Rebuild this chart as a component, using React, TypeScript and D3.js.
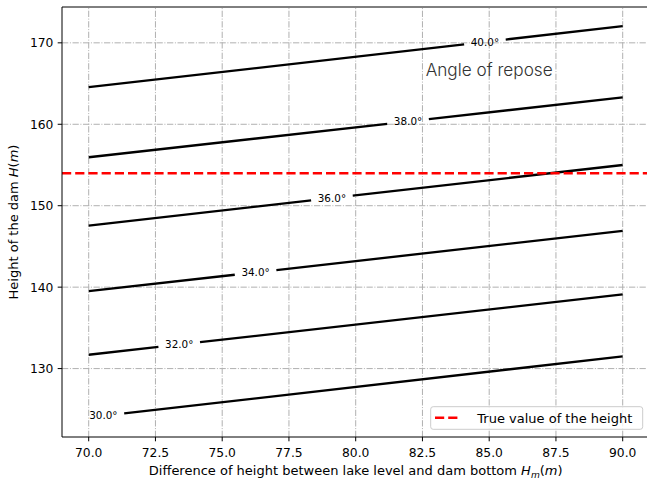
import React from "react";
import * as d3 from "d3";

// Dam height contours: H as a function of Hm for several angles of repose
const hmValues = [70, 90];
const angles = [30, 32, 34, 36, 38, 40];
const h30 = [124.0, 131.5];
const h32 = [131.7, 139.1];
const h34 = [139.5, 146.9];
const h36 = [147.55, 155.0];
const h38 = [155.95, 163.3];
const h40 = [164.55, 172.05];
const heightSeries = [h30, h32, h34, h36, h38, h40];
// Hm position of each inline contour label
const labelHm = [70.55, 73.39, 76.25, 79.11, 81.96, 84.84];

const xTicks = [70, 72.5, 75, 77.5, 80, 82.5, 85, 87.5, 90];
const yTicks = [130, 140, 150, 160, 170];
const trueHeight = 154;
const legendLabel = "True value of the height";
const titleText = "Angle of repose";
const titlePos = [85, 165.9];

const W = 647;
const H = 483;
const FONT = "'DejaVu Sans', sans-serif";

export default function App() {
  const x = d3.scaleLinear().domain([69, 91]).range([62, 649.4]);
  const y = d3.scaleLinear().domain([121.6, 174.4]).range([437, 7]);
  const left = 62, right = 649.4, top = 7, bottom = 437;
  const tickLen = 4.3;
  const tickFs = 12.3;
  const labelFs = 13;
  const gapHalf = 20.8;

  const line = d3
    .line<[number, number]>()
    .x((d) => x(d[0]))
    .y((d) => y(d[1]));

  const contours = heightSeries.map((hs, i) => {
    const at = d3.scaleLinear().domain(hmValues).range(hs);
    const lx = labelHm[i];
    const px = x(lx);
    const g0 = x.invert(px - gapHalf);
    const g1 = x.invert(px + gapHalf);
    const x0 = hmValues[0];
    const x1 = hmValues[hmValues.length - 1];
    const segs: [number, number][][] = [];
    const pts = hmValues.map((v, k) => [v, hs[k]] as [number, number]);
    if (g0 > x0) {
      segs.push([...pts.filter((p) => p[0] < g0), [g0, at(g0)]]);
    }
    if (g1 < x1) {
      segs.push([[g1, at(g1)], ...pts.filter((p) => p[0] > g1)]);
    }
    return {
      segs,
      label: `${angles[i].toFixed(1)}°`,
      lx: px,
      ly: y(at(lx)),
    };
  });

  const gridDash = "6.3,1.6,1,1.6";

  return (
    <svg
      width={W}
      height={H}
      style={{ position: "absolute", left: 0, top: 0, background: "#fff" }}
      fontFamily={FONT}
    >
      <rect x={0} y={0} width={W} height={H} fill="#fff" />
      <defs>
        <clipPath id="plotArea">
          <rect x={left} y={top} width={right - left} height={bottom - top} />
        </clipPath>
      </defs>

      {/* grid */}
      <g clipPath="url(#plotArea)" stroke="#b0b0b0" strokeWidth={1} strokeDasharray={gridDash} fill="none">
        {xTicks.map((t) => (
          <line key={"gx" + t} x1={x(t)} x2={x(t)} y1={bottom} y2={top} />
        ))}
        {yTicks.map((t) => (
          <line key={"gy" + t} x1={left} x2={right} y1={y(t)} y2={y(t)} />
        ))}
      </g>

      {/* contour lines */}
      <g clipPath="url(#plotArea)" fill="none" stroke="#000" strokeWidth={2.3}>
        {contours.map((c, i) =>
          c.segs.map((s, j) => <path key={`c${i}-${j}`} d={line(s) || ""} />)
        )}
      </g>
      <g fontSize={10.4} fill="#000" textAnchor="middle">
        {contours.map((c, i) => (
          <text key={"l" + i} x={c.lx} y={c.ly + 3.7}>
            {c.label}
          </text>
        ))}
      </g>

      {/* true height reference */}
      <g clipPath="url(#plotArea)">
        <line
          x1={left}
          x2={right}
          y1={y(trueHeight)}
          y2={y(trueHeight)}
          stroke="#ff0000"
          strokeWidth={2.5}
          strokeDasharray="9.2,4"
        />
      </g>

      <text
        x={x(titlePos[0])}
        y={y(titlePos[1])}
        textAnchor="middle"
        fontFamily="Inter, sans-serif"
        fontWeight={300}
        fontSize={17.2}
        fill="#333"
      >
        {titleText}
      </text>

      {/* spines */}
      <g stroke="#000" strokeWidth={1} fill="none">
        <line x1={left} x2={left} y1={top} y2={bottom} />
        <line x1={left} x2={right} y1={bottom} y2={bottom} />
        <line x1={left} x2={right} y1={top} y2={top} />
        <line x1={right} x2={right} y1={top} y2={bottom} />
      </g>

      {/* x axis */}
      <g fontSize={tickFs} textAnchor="middle" fill="#000">
        {xTicks.map((t) => (
          <g key={"xt" + t}>
            <line x1={x(t)} x2={x(t)} y1={bottom} y2={bottom + tickLen} stroke="#000" strokeWidth={1} />
            <text x={x(t)} y={456.5}>
              {t.toFixed(1)}
            </text>
          </g>
        ))}
      </g>
      <text x={(left + right) / 2} y={475} textAnchor="middle" fontSize={labelFs} fill="#000">
        Difference of height between lake level and dam bottom{" "}
        <tspan fontStyle="italic">H</tspan>
        <tspan fontStyle="italic" fontSize={labelFs * 0.7} dy={2.6}>
          m
        </tspan>
        <tspan dy={-2.6}>(</tspan>
        <tspan fontStyle="italic">m</tspan>
        <tspan>)</tspan>
      </text>

      {/* y axis */}
      <g fontSize={tickFs} textAnchor="end" fill="#000">
        {yTicks.map((t) => (
          <g key={"yt" + t}>
            <line x1={left - tickLen} x2={left} y1={y(t)} y2={y(t)} stroke="#000" strokeWidth={1} />
            <text x={left - tickLen - 4.3} y={y(t) + 4.4}>
              {t}
            </text>
          </g>
        ))}
      </g>
      <text
        transform={`translate(17.8, ${(top + bottom) / 2}) rotate(-90)`}
        textAnchor="middle"
        fontSize={labelFs}
        fill="#000"
      >
        Height of the dam <tspan fontStyle="italic">H</tspan>(<tspan fontStyle="italic">m</tspan>)
      </text>

      {/* legend */}
      <g>
        <rect
          x={430.7}
          y={406.7}
          width={212}
          height={22.6}
          rx={2.5}
          fill="#fff"
          fillOpacity={0.8}
          stroke="#cccccc"
          strokeWidth={1}
        />
        <line x1={435} x2={459.5} y1={417.7} y2={417.7} stroke="#ff0000" strokeWidth={2.5} strokeDasharray="9.2,4" />
        <text x={477.3} y={422.9} fontSize={labelFs} fill="#000">
          {legendLabel}
        </text>
      </g>
    </svg>
  );
}
